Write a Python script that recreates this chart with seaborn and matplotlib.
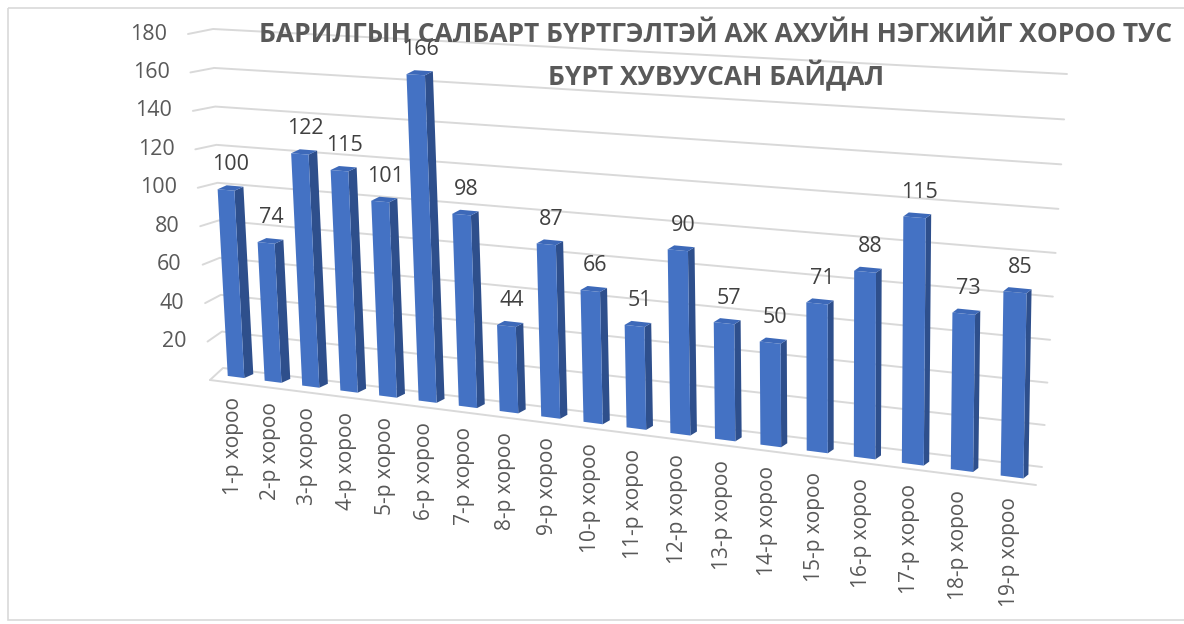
"""3D-style column chart: registered construction businesses per khoroo."""

import numpy as np
import matplotlib
matplotlib.use("Agg")
import matplotlib.pyplot as plt
import matplotlib.transforms as mtransforms
from matplotlib.patches import Polygon, Rectangle
import seaborn as sns

W, H = 1184, 624

# ── data ─────────────────────────────────────────────────────────────────
khoroo = [
    "1-р хороо", "2-р хороо", "3-р хороо", "4-р хороо", "5-р хороо",
    "6-р хороо", "7-р хороо", "8-р хороо", "9-р хороо", "10-р хороо",
    "11-р хороо", "12-р хороо", "13-р хороо", "14-р хороо", "15-р хороо",
    "16-р хороо", "17-р хороо", "18-р хороо", "19-р хороо",
]
counts = [100, 74, 122, 115, 101, 166, 98, 44, 87, 66,
          51, 90, 57, 50, 71, 88, 115, 73, 85]
grid_values = [0, 20, 40, 60, 80, 100, 120, 140, 160, 180]
title_lines = [
    "БАРИЛГЫН САЛБАРТ БҮРТГЭЛТЭЙ АЖ АХУЙН НЭГЖИЙГ ХОРОО ТУС",
    "БҮРТ ХУВУУСАН БАЙДАЛ",
]

FRONT = "#4472C4"
SIDE = "#2E4F8C"
TOP = "#3D69B9"
GRID = "#D9D9D9"
TEXT = "#595959"
LABEL = "#404040"


def homography(src, dst):
    """3x3 projective map from four source points to four pixel points."""
    A, b = [], []
    for (x, y), (X, Y) in zip(src, dst):
        A.append([x, y, 1, 0, 0, 0, -X * x, -X * y])
        b.append(X)
        A.append([0, 0, 0, x, y, 1, -Y * x, -Y * y])
        b.append(Y)
    h = np.linalg.solve(np.array(A, float), np.array(b, float))
    return np.append(h, 1.0).reshape(3, 3)


def proj(M, x, y):
    p = M @ np.array([x, y, 1.0])
    return p[0] / p[2], p[1] / p[2]


class Perspective(mtransforms.Transform):
    """(category position, value) -> image pixels (origin top-left)."""
    input_dims = output_dims = 2

    def __init__(self, M):
        super().__init__()
        self.M = M

    def transform_non_affine(self, values):
        values = np.asarray(values, float)
        pts = np.column_stack([values, np.ones(len(values))]) @ self.M.T
        return pts[:, :2] / pts[:, 2:3]


# plane of the bar fronts and the back wall, fitted to the reference view
H_BAR = homography([(0, 0), (0, 100), (18, 0), (18, 100)],
                   [(236, 377), (226, 190), (1012, 477), (1015.5, 259)])
H_WALL = homography([(0, 0), (0, 180), (1, 0), (1, 180)],
                    [(223, 368), (213, 29), (1042, 467), (1067, 74)])
FRONT_LEFT_BOTTOM = (210, 380)
FRONT_LEFT_TOP = (188, 34)
FRONT_RIGHT_BOTTOM = (1036, 485)


def main():
    sns.set_theme(style="white")
    plt.rcParams["font.family"] = ["Open Sans", "DejaVu Sans"]

    fig = plt.figure(figsize=(W / 100, H / 100), dpi=100)
    ax = fig.add_axes([0, 0, 1, 1])
    pix = mtransforms.Affine2D().scale(1 / W, -1 / H).translate(0, 1) + fig.transFigure
    bar_tr = Perspective(H_BAR) + pix

    sns.barplot(x=khoroo, y=counts, color=FRONT, saturation=1, width=0.45, ax=ax)
    ax.set_axis_off()

    # ── back wall gridlines + left side wall ─────────────────────────────
    for v in grid_values:
        t = v / 180
        fx = FRONT_LEFT_BOTTOM[0] + (FRONT_LEFT_TOP[0] - FRONT_LEFT_BOTTOM[0]) * t
        fy = FRONT_LEFT_BOTTOM[1] + (FRONT_LEFT_TOP[1] - FRONT_LEFT_BOTTOM[1]) * t
        a = proj(H_WALL, 0, v)
        b = proj(H_WALL, 1, v)
        ax.plot([fx, a[0], b[0]], [fy, a[1], b[1]], color=GRID, lw=1.4,
                transform=pix, zorder=1)
        if v:
            ax.text(fx - 21, fy, str(v), ha="right", va="center", fontsize=15.5,
                    color=TEXT, transform=pix)
    ax.plot([FRONT_LEFT_BOTTOM[0], FRONT_RIGHT_BOTTOM[0]],
            [FRONT_LEFT_BOTTOM[1], FRONT_RIGHT_BOTTOM[1]],
            color=GRID, lw=1.4, transform=pix, zorder=1)

    # ── bars: seaborn front faces put into perspective, plus side/top ────
    n = len(ax.patches)
    for i, p in enumerate(ax.patches):
        p.set_transform(bar_tr)
        p.set_edgecolor("none")
        p.set_zorder(3)
        x0, w, h = p.get_x(), p.get_width(), p.get_height()
        flt = np.array(proj(H_BAR, x0, h))
        frt = np.array(proj(H_BAR, x0 + w, h))
        frb = np.array(proj(H_BAR, x0 + w, 0))
        d = np.array([9 - 4 * i / (n - 1), -4])
        ax.add_artist(Polygon([frb, frt, frt + d, frb + d], closed=True,
                              fc=SIDE, ec="none", transform=pix, zorder=2))
        ax.add_artist(Polygon([flt, frt, frt + d, flt + d], closed=True,
                              fc=TOP, ec="none", transform=pix, zorder=3))

        cx = x0 + w / 2
        tx, ty = proj(H_BAR, cx, h)
        ax.text(tx + 5, ty - 25, f"{h:.0f}", ha="center", va="center",
                fontsize=15.5, color=LABEL, transform=pix, zorder=5)
        bx, by = proj(H_BAR, cx, 0)
        ax.text(bx - 3, by + 20, khoroo[i], rotation=90, ha="center", va="top",
                fontsize=15, color=TEXT, transform=pix)

    # ── title + chart frame ──────────────────────────────────────────────
    ax.text(716, 35, title_lines[0], ha="center", va="center", fontsize=19,
            fontweight="bold", color=TEXT, transform=pix, zorder=6)
    ax.text(716, 76, title_lines[1], ha="center", va="center", fontsize=19,
            fontweight="bold", color=TEXT, transform=pix, zorder=6)
    ax.add_artist(Rectangle((8, 8), 1200, 612, fc="none", ec=GRID, lw=1.2,
                            transform=pix))

    fig.savefig("out.png", dpi=100)
    plt.close(fig)


if __name__ == "__main__":
    main()
